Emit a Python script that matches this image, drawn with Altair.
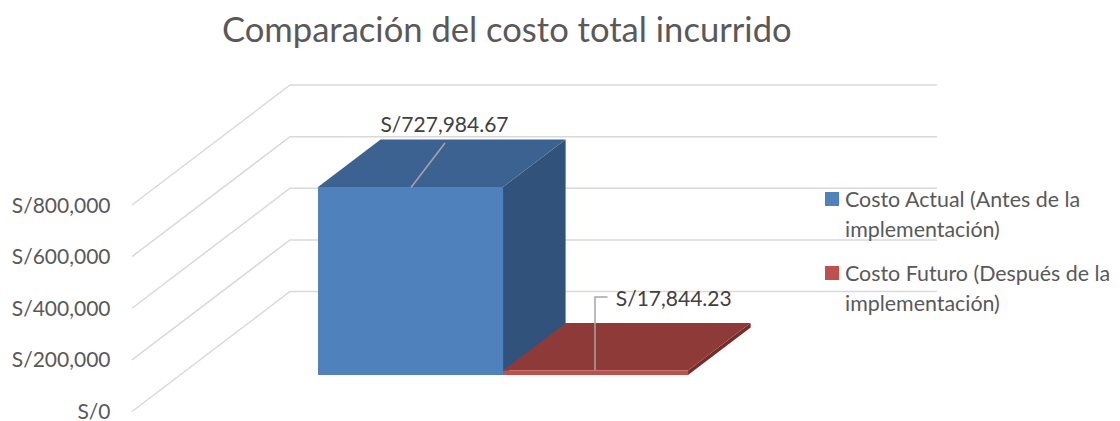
import altair as alt
import pandas as pd

# ---- chart values
SERIES = ["Costo Actual (Antes de la implementación)", "Costo Futuro (Después de la implementación)"]
LEGEND_TEXT = ["Costo Actual (Antes de la|implementación)", "Costo Futuro (Después de la|implementación)"]
VALUES = [727984.67, 17844.23]
VALUE_LABELS = ["S/727,984.67", "S/17,844.23"]
TICKS = [0, 200000, 400000, 600000, 800000]
TITLE = "Comparación del costo total incurrido"

# ---- colours
FRONT = ["#4F81BD", "#C0504D"]
TOP = ["#3B6290", "#8E3A38"]
SIDE = ["#31527A", "#732E2C"]
GRID = "#D9D9D9"
LEADER = "#A6A6A6"
FONT = "Lato"
TXT = "#595959"

# ---- geometry of the oblique projection (plot units)
W, H = 805, 343
K = 206.5 / 800000      # plot px per sol
ZERO_FROM_TOP = 341.5   # where S/0 sits, measured from plot top
DEPTH_X, DEPTH_Y = 158, 120
BAR_X0 = 138            # first column's left edge on the front plane
BAR_W = 185
BAR_D0, BAR_D = 0.304, 0.396


def val(px_up):
    return px_up / K


def proj(x, v, d):
    return x + DEPTH_X * d, v + val(DEPTH_Y * d)


def from_top(px):
    return val(ZERO_FROM_TOP - px)


# walls
grid_rows = []
for t in TICKS:
    for i, (x, d) in enumerate([(0, 0), (0, 1), (W - DEPTH_X, 1)]):
        px, py = proj(x, t, d)
        grid_rows.append(dict(tick=t, i=i, x=px, y=py))
grid = pd.DataFrame(grid_rows)

# bars
front_rows, face_rows = [], []
for s, v in enumerate(VALUES):
    l = BAR_X0 + s * BAR_W
    r = l + BAR_W
    d0, d1 = BAR_D0, BAR_D0 + BAR_D
    fl_b = proj(l, 0, d0); fl_t = proj(l, v, d0); fr_b = proj(r, 0, d0); fr_t = proj(r, v, d0)
    bl_t = proj(l, v, d1); br_t = proj(r, v, d1); br_b = proj(r, 0, d1)
    front_rows.append(dict(series=SERIES[s], x=fl_b[0], x2=fr_b[0], y=fl_b[1], y2=fl_t[1]))
    # side face: two vertical edges
    fid = f"side{s}"
    face_rows += [dict(face=fid, fill=SIDE[s], x=fr_t[0], y=fr_b[1], y2=fr_t[1]),
                  dict(face=fid, fill=SIDE[s], x=br_t[0], y=br_b[1], y2=br_t[1])]
    # top face: parallelogram cut at the vertical edges
    fid = f"top{s}"
    face_rows += [dict(face=fid, fill=TOP[s], x=fl_t[0], y=fl_t[1], y2=fl_t[1]),
                  dict(face=fid, fill=TOP[s], x=bl_t[0], y=fl_t[1], y2=bl_t[1]),
                  dict(face=fid, fill=TOP[s], x=fr_t[0], y=fr_t[1], y2=br_t[1]),
                  dict(face=fid, fill=TOP[s], x=br_t[0], y=br_t[1], y2=br_t[1])]
front = pd.DataFrame(front_rows)
faces = pd.DataFrame(face_rows)

# data labels and their leader lines
labels = pd.DataFrame([
    dict(t=VALUE_LABELS[0], x=312.5, y=from_top(56)),
    dict(t=VALUE_LABELS[1], x=541.7, y=from_top(230)),
])
leaders = pd.DataFrame([
    dict(id=0, i=0, x=279, y=from_top(117.5)),
    dict(id=0, i=1, x=313, y=from_top(73)),
    dict(id=1, i=0, x=463, y=from_top(300)),
    dict(id=1, i=1, x=463, y=from_top(227)),
    dict(id=1, i=2, x=475.5, y=from_top(227)),
])

# legend entries
legend = pd.DataFrame([
    dict(series=SERIES[0], t=LEGEND_TEXT[0], x=700, tx=713, y=from_top(129), ty=from_top(119.5)),
    dict(series=SERIES[1], t=LEGEND_TEXT[1], x=700, tx=713, y=from_top(203), ty=from_top(193.5)),
])

xs = alt.Scale(domain=[0, W], nice=False, zero=False)
ys = alt.Scale(domain=[val(ZERO_FROM_TOP - H), val(ZERO_FROM_TOP)], nice=False, zero=False)
color = alt.Scale(domain=SERIES, range=FRONT)
y_axis = alt.Axis(
    values=TICKS, grid=False, domain=False, ticks=False, labelPadding=22, title=None,
    labelExpr="'S/' + format(datum.value, ',')", labelOffset=1,
    labelFont=FONT, labelFontSize=21, labelColor=TXT)

X = alt.X("x:Q", scale=xs, axis=None)
Y = alt.Y("y:Q", scale=ys, axis=y_axis, stack=None)

grid_layer = alt.Chart(grid).mark_line(color=GRID, strokeWidth=1.5).encode(
    x=X, y=Y, detail="tick:N", order="i:Q")

front_blue = alt.Chart(front[front.series == SERIES[0]]).mark_rect().encode(
    x=X, x2="x2:Q", y=Y, y2="y2:Q",
    color=alt.Color("series:N", scale=color, legend=None))
front_red = alt.Chart(front[front.series == SERIES[1]]).mark_rect().encode(
    x=X, x2="x2:Q", y=Y, y2="y2:Q",
    color=alt.Color("series:N", scale=color, legend=None))


def faces_layer(s):
    d = faces[faces.face.str.endswith(str(s))]
    return alt.Chart(d).mark_area(interpolate="linear").encode(
        x=X, y=Y, y2="y2:Q",
        color=alt.Color("fill:N", scale=None),
        detail="face:N")


leader_layer = alt.Chart(leaders).mark_line(color=LEADER, strokeWidth=1.5).encode(
    x=X, y=Y, detail="id:N", order="i:Q")
label_layer = alt.Chart(labels).mark_text(
    font=FONT, fontSize=21, color="#404040", align="center", baseline="middle"
).encode(x=X, y=Y, text="t:N")
legend_sym = alt.Chart(legend).mark_square(size=196, opacity=1, strokeWidth=0).encode(
    x=X, y=Y, color=alt.Color("series:N", scale=color, legend=None))
legend_txt = alt.Chart(legend).mark_text(
    font=FONT, fontSize=21.4, color=TXT, align="left", baseline="top", lineBreak="|", lineHeight=30
).encode(x=alt.X("tx:Q", scale=xs, axis=None), y=alt.Y("ty:Q", scale=ys, axis=y_axis), text="t:N")

chart = alt.layer(
    grid_layer, faces_layer(0), front_blue, faces_layer(1), front_red,
    leader_layer, label_layer, legend_sym, legend_txt
).properties(
    width=W, height=H,
    padding={"left": 124, "top": 62, "right": 175, "bottom": 10},
    autosize=alt.AutoSizeParams(type="none"),
    title=alt.TitleParams(TITLE, font=FONT, fontSize=34.6, fontWeight="normal", color=TXT,
                          anchor="start", dx=90, offset=20, frame="group"),
).configure_view(stroke=None).resolve_scale(color="independent")

chart.save("out.html", embed_options={"renderer": "svg", "actions": False})
